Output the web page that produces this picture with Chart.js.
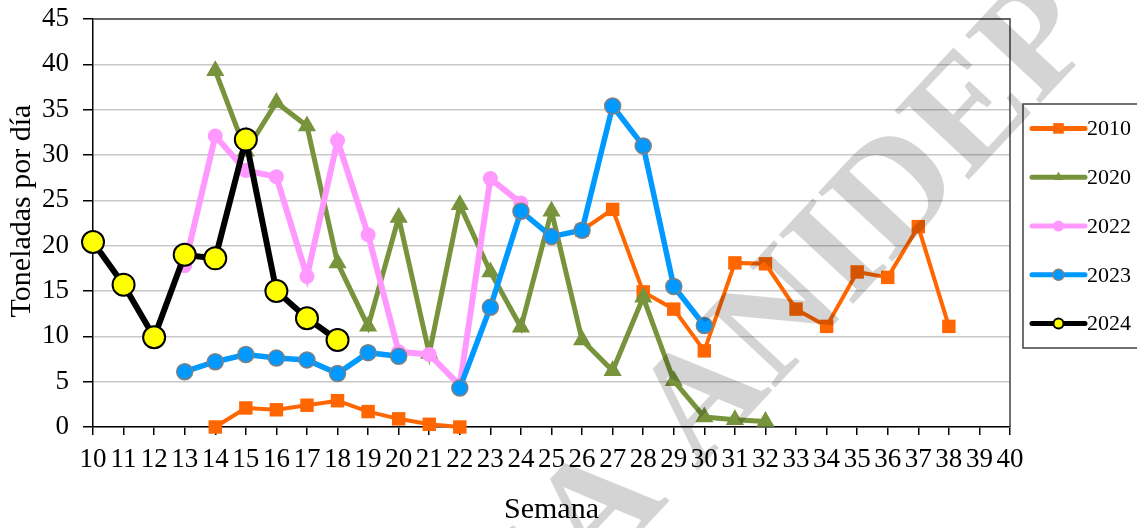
<!DOCTYPE html>
<html>
<head>
<meta charset="utf-8">
<script src="https://cdn.jsdelivr.net/npm/chart.js@4/dist/chart.umd.min.js"></script>
<style>
  html, body { margin: 0; padding: 0; background: #fff; }
  #wrap { width: 1137px; height: 528px; position: relative; }
</style>
</head>
<body>
<div id="wrap"><canvas id="chart"></canvas></div>
<script>
// Semana 10..40
const weeks = [10, 11, 12, 13, 14, 15, 16, 17, 18, 19, 20, 21, 22, 23, 24, 25, 26, 27, 28, 29, 30, 31, 32, 33, 34, 35, 36, 37, 38, 39, 40];

// Toneladas por día, one entry per week (null = no data)
const s2010 = [null, null, null, null, 0.0, 2.1, 1.9, 2.4, 2.9, 1.7, 0.9, 0.3, 0.0, null, null, null, 21.7, 24.0, 14.9, 13.0, 8.4, 18.1, 18.0, 13.0, 11.1, 17.1, 16.5, 22.1, 11.1, null, null];
const s2020 = [null, null, null, null, 39.3, 30.4, 35.8, 33.2, 18.1, 11.1, 23.1, 8.1, 24.5, 17.1, 11.0, 23.8, 9.6, 6.2, 14.3, 5.1, 1.1, 0.8, 0.6, null, null, null, null, null, null, null, null];
const s2022 = [null, null, null, 17.8, 32.1, 28.3, 27.6, 16.6, 31.6, 21.2, 8.3, 8.0, 4.6, 27.4, 24.7, null, null, null, null, null, null, null, null, null, null, null, null, null, null, null, null];
const s2023 = [null, null, null, 6.1, 7.2, 8.0, 7.6, 7.4, 5.9, 8.2, 7.8, null, 4.3, 13.2, 23.8, 21.0, 21.7, 35.4, 31.0, 15.5, 11.2, null, null, null, null, null, null, null, null, null, null];
const s2024 = [20.4, 15.7, 9.9, 19.0, 18.6, 31.7, 15.0, 12.0, 9.6, null, null, null, null, null, null, null, null, null, null, null, null, null, null, null, null, null, null, null, null, null, null];

const yTicks = [0, 5, 10, 15, 20, 25, 30, 35, 40, 45];

const FONT = "'Liberation Serif', 'Times New Roman', serif";

function pts(vals) {
  return weeks.map((w, i) => ({ x: w, y: vals[i] }));
}

const series = [
  { label: '2010', data: s2010, color: '#FF6600', width: 4, style: 'rect', r: 9.5, fill: '#FF6600', border: '#FF6600', bw: 0, lr: 7.5, order: 5 },
  { label: '2020', data: s2020, color: '#77933C', width: 5, style: 'triangle', r: 10.5, fill: '#77933C', border: '#77933C', bw: 0, lr: 5.5, order: 4 },
  { label: '2022', data: s2022, color: '#FF99FF', width: 6, style: 'circle', r: 7.5, fill: '#FF99FF', border: '#FF99FF', bw: 0, lr: 5.5, order: 3 },
  { label: '2023', data: s2023, color: '#0099FF', width: 5.5, style: 'circle', r: 8, fill: '#0099FF', border: '#808080', bw: 1.5, lr: 5.5, order: 2 },
  { label: '2024', data: s2024, color: '#000000', width: 6, style: 'circle', r: 11, fill: '#FFFF00', border: '#000000', bw: 2, lr: 5, order: 1 }
];

// frame round the plot area (top and right sides)
const frame = {
  id: 'frame',
  beforeDatasetsDraw(chart) {
    const a = chart.chartArea, ctx = chart.ctx;
    ctx.save();
    ctx.strokeStyle = '#404040';
    ctx.lineWidth = 1.5;
    ctx.beginPath();
    ctx.moveTo(a.left, a.top);
    ctx.lineTo(a.right, a.top);
    ctx.lineTo(a.right, a.bottom);
    ctx.stroke();
    ctx.restore();
  }
};

// y title drawn by hand so it sits where Excel put it (a bit above centre)
const yTitle = {
  id: 'yTitle',
  afterDraw(chart) {
    const ctx = chart.ctx;
    ctx.save();
    ctx.translate(22, 211);
    ctx.rotate(-Math.PI / 2);
    ctx.fillStyle = '#000';
    ctx.font = '30px ' + FONT;
    ctx.textAlign = 'center';
    ctx.textBaseline = 'middle';
    ctx.fillText('Toneladas por día', 0, 0);
    ctx.restore();
  }
};

// boxed legend at the right, line + marker like the original
const boxLegend = {
  id: 'boxLegend',
  afterDraw(chart) {
    const ctx = chart.ctx;
    const a = chart.chartArea;
    const left = a.right + 13, top = 104, bottom = 348;
    ctx.save();
    ctx.fillStyle = '#fff';
    ctx.fillRect(left, top, chart.width - left + 5, bottom - top);
    ctx.strokeStyle = '#404040';
    ctx.lineWidth = 1.5;
    ctx.strokeRect(left, top, chart.width - left + 5, bottom - top);
    const step = (bottom - top) / series.length;
    series.forEach((s, i) => {
      const y = top + step * (i + 0.5);
      const x0 = left + 9, x1 = left + 62, xm = (x0 + x1) / 2;
      ctx.strokeStyle = s.color;
      ctx.lineWidth = 5;
      ctx.lineCap = 'round';
      ctx.beginPath();
      ctx.moveTo(x0, y);
      ctx.lineTo(x1, y);
      ctx.stroke();
      ctx.fillStyle = s.fill;
      ctx.strokeStyle = s.border;
      ctx.lineWidth = s.bw || 0.01;
      Chart.helpers.drawPoint(ctx, { pointStyle: s.style, radius: s.lr, borderWidth: s.bw, rotation: 0 }, xm, y);
      ctx.fillStyle = '#000';
      ctx.font = '22px ' + FONT;
      ctx.textBaseline = 'middle';
      ctx.textAlign = 'left';
      ctx.fillText(s.label, x1 + 2, y + 1);
    });
    ctx.restore();
  }
};

// grey diagonal watermark over the chart
const watermark = {
  id: 'watermark',
  afterDraw(chart) {
    const ctx = chart.ctx;
    ctx.save();
    ctx.translate(760, 345);
    ctx.rotate(-47 * Math.PI / 180);
    ctx.fillStyle = 'rgba(0,0,0,0.17)';
    ctx.font = 'bold 155px ' + FONT;
    ctx.textAlign = 'center';
    ctx.textBaseline = 'middle';
    ctx.fillText('ICA ANIDEP', 0, 0);
    ctx.restore();
  }
};

new Chart(document.getElementById('chart'), {
  type: 'line',
  data: {
    datasets: series.map(s => ({
      label: s.label,
      data: pts(s.data),
      borderColor: s.color,
      borderWidth: s.width,
      pointStyle: s.style,
      pointRadius: s.r,
      pointBackgroundColor: s.fill,
      pointBorderColor: s.border,
      pointBorderWidth: s.bw,
      pointHoverRadius: s.r,
      tension: 0,
      spanGaps: false,
      clip: false,
      order: s.order
    }))
  },
  options: {
    responsive: true,
    maintainAspectRatio: false,
    animation: false,
    events: [],
    layout: { padding: { top: 19, right: 127, bottom: 0, left: 0 } },
    plugins: {
      legend: { display: false },
      tooltip: { enabled: false }
    },
    scales: {
      x: {
        type: 'linear',
        min: 10,
        max: 40,
        afterFit(scale) {
          scale.height = 101;
          scale.paddingLeft = 0;
          scale.paddingRight = 0;
        },
        ticks: {
          stepSize: 1,
          autoSkip: false,
          maxRotation: 0,
          padding: 9,
          color: '#000',
          font: { family: FONT, size: 27 }
        },
        grid: { drawOnChartArea: false, tickLength: 8, color: '#000', lineWidth: 1.5 },
        border: { color: '#000', width: 1.5 },
        title: {
          display: true,
          text: 'Semana',
          color: '#000',
          font: { family: FONT, size: 30 },
          padding: { top: 0, bottom: 0 }
        }
      },
      y: {
        min: 0,
        max: 45,
        afterFit(scale) {
          scale.width = 93;
          scale.paddingTop = 0;
          scale.paddingBottom = 0;
        },
        afterBuildTicks(scale) { scale.ticks = yTicks.map(v => ({ value: v })); },
        ticks: {
          padding: 14,
          color: '#000',
          font: { family: FONT, size: 27 }
        },
        grid: {
          color: '#C8C8C8',
          lineWidth: 1.5,
          tickLength: 10,
          tickColor: '#000'
        },
        border: { color: '#000', width: 1.5 },
        title: { display: false }
      }
    }
  },
  plugins: [frame, yTitle, boxLegend, watermark]
});
</script>
</body>
</html>
